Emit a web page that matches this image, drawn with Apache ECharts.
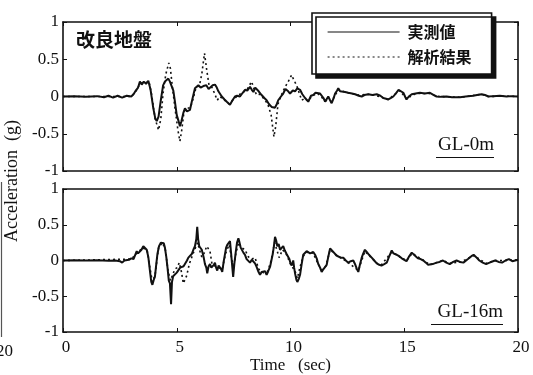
<!DOCTYPE html>
<html>
<head>
<meta charset="utf-8">
<script src="https://cdn.jsdelivr.net/npm/echarts@6/dist/echarts.min.js"></script>
<style>
  html, body { margin: 0; padding: 0; background: #fff; }
  #chart { width: 533px; height: 375px; }
</style>
</head>
<body>
<div id="chart"></div>
<script>
// time (sec), acceleration (g)
const seriesNames = ["実測値", "解析結果"];
const xTicks = [0, 5, 10, 15, 20];
const yTicks = [-1, -0.5, 0, 0.5, 1];
const panelLabels = ["GL-0m", "GL-16m"];

const topMeasured = [
  [0,0],[0.5,0.005],[1,-0.005],[1.5,0.005],[1.8,-0.01],[2.0,0.01],[2.2,-0.015],[2.4,0.01],[2.6,-0.015],[2.8,0.01],
  [3.0,0.0],[3.1,0.03],[3.2,0.08],[3.3,0.12],[3.38,0.2],[3.46,0.16],[3.55,0.2],[3.65,0.17],[3.75,0.21],[3.85,0.09],
  [3.97,-0.16],[4.06,-0.3],[4.12,-0.33],[4.2,-0.27],[4.3,-0.05],[4.4,0.15],[4.48,0.2],[4.55,0.18],[4.63,0.24],[4.7,0.2],
  [4.78,0.18],[4.85,0.08],[4.92,-0.07],[5.0,-0.25],[5.07,-0.32],[5.14,-0.4],[5.2,-0.34],[5.29,-0.22],[5.36,-0.16],[5.45,-0.2],
  [5.58,-0.18],[5.66,-0.07],[5.8,0.11],[5.95,0.15],[6.05,0.12],[6.17,0.14],[6.3,0.15],[6.4,0.1],[6.46,0.09],[6.58,0.15],
  [6.68,0.16],[6.76,0.12],[6.83,0.07],[6.98,0],[7.1,-0.04],[7.2,-0.07],[7.34,-0.11],[7.45,-0.05],[7.56,0],[7.65,0.01],
  [7.78,0],[7.9,0.05],[8.0,0.09],[8.1,0.08],[8.22,0.13],[8.3,0.09],[8.37,0.06],[8.45,0.12],[8.51,0.11],[8.6,0.07],
  [8.73,0.02],[8.85,-0.02],[8.95,-0.05],[9.05,-0.1],[9.17,-0.14],[9.25,-0.12],[9.32,-0.15],[9.4,-0.1],[9.46,-0.05],[9.58,0.0],
  [9.68,0.04],[9.78,0.1],[9.83,0.11],[9.9,0.07],[9.98,0.04],[10.1,0.08],[10.2,0.07],[10.3,0.11],[10.42,0.09],[10.52,0.03],
  [10.64,-0.02],[10.78,-0.07],[10.9,0.01],[11.0,0.02],[11.1,0.05],[11.3,0.04],[11.45,-0.02],[11.52,-0.07],[11.6,-0.03],[11.66,0],
  [11.74,-0.05],[11.81,-0.09],[11.9,-0.02],[11.96,0.04],[12.05,0.08],[12.1,0.11],[12.18,0.07],[12.25,0.05],[12.4,0.06],[12.54,0.05],
  [12.7,0.04],[12.84,0.03],[13.0,0.01],[13.13,0.0],[13.25,0.02],[13.42,0.03],[13.6,0.02],[13.79,0.03],[13.95,0.01],[14.08,-0.02],
  [14.2,-0.03],[14.3,-0.04],[14.42,-0.02],[14.52,0],[14.65,0.05],[14.75,0.09],[14.81,0.09],[14.96,0.05],[15.05,-0.01],[15.1,-0.04],
  [15.2,0],[15.33,0.03],[15.5,0.04],[15.69,0.05],[15.9,0.04],[16.13,0.05],[16.3,0.02],[16.42,0],[16.6,-0.005],[16.86,0],
  [17.1,-0.01],[17.45,-0.01],[17.7,0],[18.03,0.01],[18.2,0.02],[18.4,0.03],[18.55,0.02],[18.7,0],[18.9,0.005],[19.2,0.01],
  [19.5,0.0],[19.7,0.005],[20,0]
];

const topAnalysis = [
  [0,0],[3.0,0],[3.2,0.07],[3.4,0.18],[3.6,0.18],[3.78,0.2],[3.9,0.02],[4.05,-0.3],[4.2,-0.45],[4.3,-0.3],
  [4.4,0.05],[4.52,0.3],[4.65,0.45],[4.72,0.38],[4.8,0.15],[4.92,-0.15],[5.05,-0.45],[5.14,-0.6],[5.22,-0.45],[5.32,-0.2],
  [5.45,-0.16],[5.6,-0.15],[5.7,-0.05],[5.85,0.12],[6.0,0.15],[6.1,0.3],[6.22,0.58],[6.32,0.35],[6.42,0.15],[6.55,0.12],
  [6.65,0.05],[6.78,-0.05],[6.9,0.0],[7.1,-0.05],[7.3,-0.1],[7.5,-0.04],[7.7,0.02],[7.9,0.05],[8.1,0.1],[8.29,0.2],
  [8.4,0.1],[8.51,0.02],[8.65,0.03],[8.8,-0.02],[9.0,-0.1],[9.15,-0.25],[9.27,-0.54],[9.35,-0.4],[9.45,-0.1],[9.6,0.02],
  [9.75,0.12],[9.9,0.2],[10.05,0.29],[10.15,0.22],[10.27,0.15],[10.38,0.05],[10.49,-0.05],[10.6,-0.03],[10.78,-0.06],[10.95,0.01],
  [11.2,0.04],[11.5,-0.05],[11.8,-0.07],[12.1,0.09],[12.5,0.05],[13.0,0.02],[13.5,0.03],[14.0,-0.01],[14.3,-0.04],[14.8,0.08],
  [15.1,-0.03],[15.5,0.04],[16.1,0.04],[16.5,0],[17.5,-0.01],[18.4,0.03],[18.7,0],[19.5,0.005],[20,0]
];

const bottomMeasured = [
  [0,0],[0.5,0.005],[1,0],[1.5,0.005],[2,-0.005],[2.3,0],[2.5,-0.01],[2.6,-0.03],[2.7,0],[2.9,0.01],
  [3.0,0.03],[3.1,0.02],[3.24,0.13],[3.3,0.1],[3.38,0.08],[3.45,0.15],[3.53,0.2],[3.6,0.18],[3.68,0.15],[3.75,0.05],
  [3.82,-0.14],[3.88,-0.3],[3.93,-0.34],[4.0,-0.26],[4.04,-0.23],[4.1,-0.05],[4.15,0.09],[4.22,0.2],[4.3,0.25],[4.37,0.27],
  [4.43,0.24],[4.48,0.18],[4.54,0.05],[4.59,-0.09],[4.65,-0.28],[4.7,-0.32],[4.75,-0.61],[4.79,-0.3],[4.84,-0.22],[4.92,-0.21],
  [5.0,-0.17],[5.07,-0.16],[5.15,-0.1],[5.22,-0.12],[5.3,-0.08],[5.36,-0.1],[5.45,0.0],[5.51,0.04],[5.58,0.06],[5.66,0.09],
  [5.73,0.15],[5.8,0.2],[5.86,0.3],[5.9,0.47],[5.94,0.3],[5.99,0.2],[6.05,0.18],[6.1,0.15],[6.18,0.05],[6.24,-0.05],
  [6.3,-0.1],[6.34,-0.18],[6.4,-0.08],[6.46,-0.05],[6.52,-0.1],[6.58,-0.12],[6.63,-0.06],[6.68,-0.03],[6.73,-0.1],[6.78,-0.14],
  [6.84,-0.07],[6.9,-0.09],[6.95,-0.12],[7.0,-0.16],[7.06,-0.02],[7.12,0.09],[7.17,0.18],[7.22,0.22],[7.28,0.24],[7.34,0.27],
  [7.39,0.1],[7.43,-0.05],[7.48,-0.23],[7.53,-0.05],[7.59,0.11],[7.65,0.25],[7.71,0.31],[7.76,0.25],[7.81,0.18],[7.87,0.16],
  [7.93,0.11],[8.0,0.08],[8.07,0.02],[8.15,0.0],[8.22,-0.03],[8.3,0.01],[8.37,0.02],[8.44,-0.04],[8.51,-0.09],[8.58,-0.15],
  [8.66,-0.2],[8.73,-0.16],[8.81,-0.18],[8.88,-0.15],[8.95,-0.2],[9.02,-0.15],[9.1,-0.09],[9.16,0.0],[9.22,0.09],[9.27,0.2],
  [9.32,0.33],[9.37,0.28],[9.42,0.2],[9.48,0.23],[9.54,0.15],[9.6,0.17],[9.68,0.2],[9.75,0.14],[9.83,0.09],[9.9,0.05],
  [9.95,0.02],[10.0,-0.04],[10.05,-0.07],[10.12,0.0],[10.16,-0.1],[10.2,-0.18],[10.26,-0.27],[10.3,-0.3],[10.36,-0.26],[10.42,-0.2],
  [10.49,-0.05],[10.56,0.08],[10.63,0.1],[10.71,0.13],[10.78,0.11],[10.86,0.1],[10.93,0.12],[11.0,0.12],[11.08,0.08],[11.15,0.03],
  [11.22,-0.05],[11.3,-0.1],[11.37,-0.16],[11.45,-0.12],[11.52,-0.1],[11.59,-0.06],[11.66,0.05],[11.74,0.17],[11.8,0.15],[11.88,0.12],
  [11.95,0.1],[12.02,0.07],[12.1,0.06],[12.2,0.04],[12.32,0.04],[12.43,0.0],[12.54,-0.03],[12.65,-0.01],[12.76,0.0],[12.85,-0.06],
  [12.92,-0.12],[12.98,-0.16],[13.05,-0.06],[13.13,0.04],[13.2,0.1],[13.27,0.15],[13.35,0.12],[13.45,0.08],[13.57,0.04],[13.68,0.0],
  [13.79,-0.04],[13.9,-0.06],[14.0,-0.07],[14.12,-0.05],[14.23,-0.03],[14.33,0.05],[14.45,0.14],[14.52,0.1],[14.6,0.12],[14.67,0.08],
  [14.78,0.06],[14.89,0.03],[15.0,0.01],[15.1,-0.01],[15.2,0.05],[15.33,0.11],[15.4,0.11],[15.5,0.06],[15.6,0.03],[15.72,0.02],
  [15.84,0.0],[15.95,-0.03],[16.05,-0.06],[16.13,-0.07],[16.25,-0.05],[16.42,-0.03],[16.55,-0.02],[16.7,0.0],[16.85,-0.03],[17.0,-0.05],
  [17.15,-0.02],[17.3,0.0],[17.45,-0.02],[17.6,-0.03],[17.8,0.02],[17.95,0.06],[18.05,0.08],[18.15,0.05],[18.3,0.0],[18.45,-0.03],
  [18.6,-0.05],[18.75,-0.03],[18.9,-0.01],[19.0,0.0],[19.15,-0.02],[19.3,-0.03],[19.45,0.0],[19.6,0.02],[19.75,-0.01],[20,0.01]
];

const bottomAnalysis = [
  [0,0],[3.0,0.02],[3.25,0.1],[3.5,0.18],[3.7,0.14],[3.82,-0.1],[3.93,-0.3],[4.05,-0.2],[4.2,0.18],[4.37,0.25],
  [4.5,0.15],[4.62,-0.15],[4.72,-0.28],[4.82,-0.2],[4.92,-0.12],[5.02,-0.1],[5.11,-0.03],[5.2,-0.15],[5.29,-0.32],[5.36,-0.3],
  [5.44,-0.21],[5.55,-0.05],[5.7,0.08],[5.85,0.2],[5.92,0.25],[6.0,0.15],[6.1,0.05],[6.2,0.1],[6.32,0.2],[6.39,0.22],
  [6.46,0.13],[6.55,-0.05],[6.7,-0.08],[6.85,-0.1],[7.0,-0.12],[7.15,0.1],[7.3,0.22],[7.4,0.05],[7.5,-0.1],[7.6,0.1],
  [7.72,0.25],[7.85,0.18],[8.0,0.15],[8.15,0.05],[8.3,0.02],[8.44,0.04],[8.6,-0.12],[8.8,-0.17],[9.0,-0.15],[9.15,0.0],
  [9.3,0.25],[9.4,0.15],[9.5,0.04],[9.65,0.15],[9.8,0.1],[10.0,-0.05],[10.2,-0.15],[10.3,-0.25],[10.42,-0.09],[10.56,0.06],
  [10.75,0.12],[11.0,0.1],[11.2,-0.04],[11.37,-0.13],[11.55,-0.08],[11.74,0.15],[12.0,0.08],[12.5,-0.02],[12.98,-0.14],[13.27,0.13],
  [13.8,-0.04],[14.0,-0.06],[14.45,0.12],[14.8,0.05],[15.1,0.0],[15.35,0.1],[15.8,0.01],[16.13,-0.06],[16.7,0],[17.0,-0.04],
  [17.5,-0.02],[18.05,0.07],[18.6,-0.04],[19.0,0],[19.5,0.0],[20,0.01]
];

const ink = "#111";
const serif = "Liberation Serif";
const jp = "Noto Sans CJK JP";

const chart = echarts.init(document.getElementById("chart"), null, { renderer: "canvas" });

const frameLine = { show: true, onZero: false, lineStyle: { color: ink, width: 1.6 } };
const innerTick = { show: true, inside: true, length: 4, lineStyle: { color: ink, width: 1 } };

function xAx(gridIndex, position, showLabel) {
  return {
    type: "value", gridIndex, position,
    min: xTicks[0], max: xTicks[xTicks.length - 1], interval: 5,
    axisLine: frameLine, axisTick: innerTick, splitLine: { show: false },
    axisLabel: { show: showLabel, color: ink, fontFamily: serif, fontSize: 17, margin: 7, padding: [0, 0, 0, 6] }
  };
}
function yAx(gridIndex, position, showLabel) {
  return {
    type: "value", gridIndex, position,
    min: yTicks[0], max: yTicks[yTicks.length - 1], interval: 0.5,
    axisLine: frameLine, axisTick: innerTick, splitLine: { show: false },
    axisLabel: { show: showLabel, color: ink, fontFamily: serif, fontSize: 17, margin: 4 }
  };
}

const bottomX = xAx(1, "bottom", true);
bottomX.name = "Time   (sec)";
bottomX.nameLocation = "middle";
bottomX.nameGap = 25;
bottomX.nameTextStyle = { color: ink, fontFamily: serif, fontSize: 17 };

const solid = { color: ink, width: 2 };
const dotted = { color: ink, width: 1.6, type: [2, 3] };
const noMark = { color: ink, opacity: 0 };

const option = {
  animation: false,
  backgroundColor: "#fff",
  grid: [
    { left: 63, top: 22, width: 455, height: 149 },
    { left: 63, top: 189, width: 455, height: 148 }
  ],
  xAxis: [xAx(0, "bottom", false), xAx(0, "top", false), bottomX, xAx(1, "top", false)],
  yAxis: [yAx(0, "left", true), yAx(0, "right", false), yAx(1, "left", true), yAx(1, "right", false)],
  title: {
    text: "改良地盤", left: 76, top: 30, padding: 0,
    textStyle: { fontFamily: jp, fontSize: 19, fontWeight: "bold", color: ink }
  },
  legend: {
    data: seriesNames,
    left: 312, top: 13, orient: "vertical",
    itemWidth: 72, itemHeight: 18, itemGap: 9,
    padding: [11, 20, 9, 15],
    backgroundColor: "#fff", borderColor: ink, borderWidth: 1.6,
    shadowColor: ink, shadowBlur: 0, shadowOffsetX: 4, shadowOffsetY: 4,
    itemStyle: { opacity: 0 },
    lineStyle: { width: 1.2, color: ink },
    textStyle: { fontFamily: jp, fontSize: 16, fontWeight: "bold", color: ink, padding: [0, 0, 0, 3] }
  },
  series: [
    { name: seriesNames[0], type: "line", xAxisIndex: 0, yAxisIndex: 0, data: topMeasured, symbol: "none", itemStyle: noMark, lineStyle: solid, z: 3 },
    { name: seriesNames[1], type: "line", xAxisIndex: 0, yAxisIndex: 0, data: topAnalysis, symbol: "none", itemStyle: noMark, lineStyle: dotted, z: 2 },
    { name: seriesNames[0], type: "line", xAxisIndex: 2, yAxisIndex: 2, data: bottomMeasured, symbol: "none", itemStyle: noMark, lineStyle: solid, z: 3 },
    { name: seriesNames[1], type: "line", xAxisIndex: 2, yAxisIndex: 2, data: bottomAnalysis, symbol: "none", itemStyle: noMark, lineStyle: dotted, z: 2 }
  ],
  graphic: [
    {
      type: "text", x: 12, y: 181, rotation: Math.PI / 2,
      style: { text: "Acceleration  (g)", font: "18px " + serif, fill: ink, align: "center", verticalAlign: "middle" }
    },
    { type: "text", x: 494, y: 155, style: { text: panelLabels[0], font: "19px " + serif, fill: ink, align: "right", verticalAlign: "bottom" } },
    { type: "line", shape: { x1: 436, y1: 157.5, x2: 494, y2: 157.5 }, style: { stroke: ink, lineWidth: 1.2 } },
    { type: "text", x: 503, y: 322, style: { text: panelLabels[1], font: "19px " + serif, fill: ink, align: "right", verticalAlign: "bottom" } },
    { type: "line", shape: { x1: 431, y1: 324.5, x2: 503, y2: 324.5 }, style: { stroke: ink, lineWidth: 1.2 } },
    // scraps of the neighbouring figure at the left edge of the scan
    { type: "line", shape: { x1: 1.5, y1: 182, x2: 1.5, y2: 337 }, style: { stroke: "#555", lineWidth: 1.2 } },
    { type: "text", x: 13, y: 352, style: { text: "20", font: "17px " + serif, fill: ink, align: "right", verticalAlign: "middle" } }
  ]
};

chart.setOption(option);
</script>
</body>
</html>
